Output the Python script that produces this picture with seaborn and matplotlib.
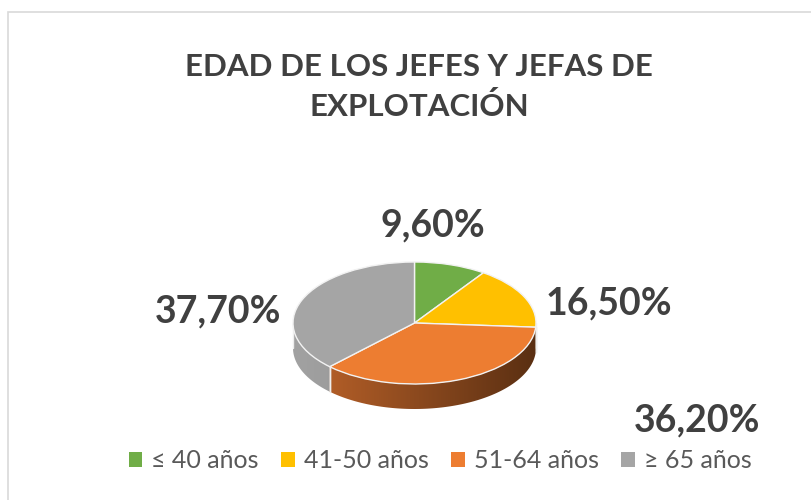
import numpy as np
import seaborn as sns
import matplotlib.pyplot as plt
from matplotlib.colors import LinearSegmentedColormap
from matplotlib.patches import Polygon, Rectangle

# data
categories = ["≤ 40 años", "41-50 años", "51-64 años", "≥ 65 años"]
shares = [9.6, 16.5, 36.2, 37.7]
top_colors = ["#70AD47", "#FFC000", "#ED7D31", "#A5A5A5"]
side_light = ["#5f9a3a", "#d9a400", "#c0652b", "#a2a2a2"]
side_dark = ["#3f6a26", "#8f6c00", "#5a2f12", "#7e7e7e"]
title = "EDAD DE LOS JEFES Y JEFAS DE\nEXPLOTACIÓN"

# label centres in pixels (from top-left), one per slice
label_px = [(433, 225), (609, 303), (697, 420), (218, 311)]

sns.set_theme(style="white")
plt.rcParams["font.family"] = ["Lato", "DejaVu Sans"]

W, H = 811, 500
fig = plt.figure(figsize=(W / 100, H / 100), dpi=100)
fig.patch.set_facecolor("white")

# chart frame (only top and left edges fall inside the picture)
fig.add_artist(Rectangle((8 / W, -0.1), 1.2, (H - 12) / H + 0.1, transform=fig.transFigure,
                         fill=False, edgecolor="#d9d9d9", linewidth=1.2, clip_on=False))

# pie geometry in pixels
cx, cy = 414.5, H - 323
rx, ry = 121.5, 61.0
depth = 25.0 / ry
half_w, half_h = 150, 110
ax = fig.add_axes([(cx - half_w) / W, (cy - half_h) / H, 2 * half_w / W, 2 * half_h / H])

wedges, _ = ax.pie(shares, colors=top_colors, startangle=90, counterclock=False,
                   radius=1, center=(0, 0),
                   wedgeprops=dict(edgecolor="#f2f2f2", linewidth=1.0))
for w in wedges:
    w.set_zorder(5)
ax.set_aspect("auto")
ax.axis("off")

# side walls of the 3D pie, built from the wedge angles
grad = np.linspace(0, 1, 256).reshape(1, -1)
for w, lo, hi in zip(wedges, side_light, side_dark):
    a1, a2 = w.theta1 % 360, w.theta2 % 360
    if a2 <= a1:
        a2 += 360
    segs = []
    for base in (180, 540):
        s, e = max(a1, base), min(a2, base + 180)
        if e > s:
            segs.append((s, e))
    for s, e in segs:
        t = np.radians(np.linspace(s, e, 120))
        x = np.cos(t)
        y = np.sin(t)
        pts = np.vstack([np.column_stack([x, y]), np.column_stack([x[::-1], y[::-1] - depth])])
        poly = Polygon(pts, closed=True, facecolor="none", edgecolor="none")
        ax.add_patch(poly)
        cmap = LinearSegmentedColormap.from_list("side", [lo, hi])
        im = ax.imshow(grad, cmap=cmap, extent=(-1, 1, -1 - depth, 0), aspect="auto",
                       zorder=2, interpolation="bilinear")
        im.set_clip_path(poly)
        # thin light seam at the slice edges
        for xe, ye in ((x[0], y[0]), (x[-1], y[-1])):
            ax.plot([xe, xe], [ye, ye - depth], color="#eeeeee", lw=1.0, zorder=3)
ax.set_xlim(-half_w / rx, half_w / rx)
ax.set_ylim(-half_h / ry, half_h / ry)

# percentage labels
for v, (px, py) in zip(shares, label_px):
    fig.text(px / W, 1 - py / H, f"{v:.2f}%".replace(".", ","), ha="center", va="center",
             fontsize=27, fontweight="bold", color="#404040")

fig.text(419 / W, 1 - 87 / H, title, ha="center", va="center", fontsize=22.5,
         fontweight="bold", color="#404040", linespacing=1.45)

handles = [Rectangle((0, 0), 1, 1, facecolor=c, edgecolor="none") for c in top_colors]
fig.legend(handles, categories, loc="center", bbox_to_anchor=(440 / W, 1 - 461 / H), ncol=4,
           frameon=False, fontsize=18, handlelength=0.55, handleheight=0.55,
           handletextpad=0.35, columnspacing=0.9, labelcolor="#595959",
           borderaxespad=0, borderpad=0)

fig.savefig("out.png", dpi=100, facecolor="white")
